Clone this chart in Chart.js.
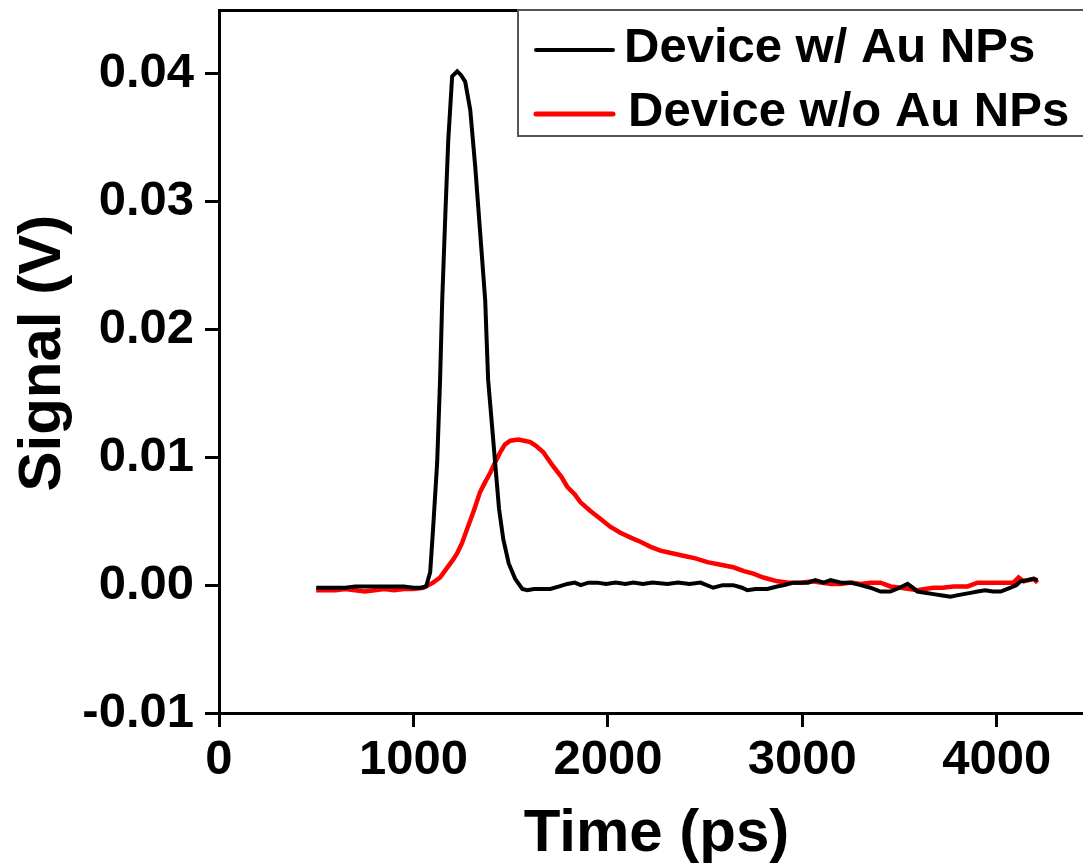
<!DOCTYPE html>
<html>
<head>
<meta charset="utf-8">
<script src="https://cdn.jsdelivr.net/npm/chart.js@4/dist/chart.umd.min.js"></script>
<style>
  body { margin: 0; background: #fff; overflow: hidden; }
  #wrap { width: 1083px; height: 867px; overflow: hidden; }
</style>
</head>
<body>
<div id="wrap"><canvas id="myChart" width="1094" height="867"></canvas></div>
<script>
// time (ps) and signal (V)
var timeAu = [500, 550, 600, 650, 700, 750, 800, 850, 900, 950, 1000, 1040, 1065, 1086, 1101, 1122, 1137, 1148, 1164, 1179, 1199, 1225, 1245, 1266, 1292, 1318, 1343, 1369, 1384, 1420, 1440, 1462, 1490, 1523, 1560, 1585, 1620, 1660, 1704, 1750, 1791, 1830, 1860, 1900, 1945, 1990, 2040, 2090, 2131, 2180, 2230, 2306, 2360, 2420, 2476, 2542, 2590, 2645, 2690, 2717, 2760, 2820, 2870, 2903, 2954, 2990, 3030, 3067, 3110, 3145, 3200, 3248, 3300, 3350, 3402, 3453, 3500, 3541, 3570, 3592, 3630, 3675, 3720, 3762, 3795, 3829, 3865, 3901, 3940, 3980, 4020, 4071, 4100, 4122, 4160, 4189, 4210];
var signalAu = [-0.0002, -0.0002, -0.0002, -0.0002, -0.0001, -0.0001, -0.0001, -0.0001, -0.0001, -0.0001, -0.0002, -0.0002, -0.0001, 0.001, 0.0044, 0.0096, 0.0161, 0.0223, 0.029, 0.0348, 0.0398, 0.0402, 0.0399, 0.0394, 0.0372, 0.0327, 0.0276, 0.0223, 0.0161, 0.0096, 0.006, 0.0036, 0.0017, 0.0005, -0.0003, -0.0004, -0.0003, -0.0003, -0.0003, -0.0001, 0.0001, 0.0002, 0.0, 0.0002, 0.0002, 0.0001, 0.0002, 0.0001, 0.0002, 0.0001, 0.0002, 0.0001, 0.0002, 0.0001, 0.0002, -0.0002, 0.0, 0.0, -0.0002, -0.0004, -0.0003, -0.0003, -0.0001, 0.0, 0.0002, 0.0002, 0.0002, 0.0004, 0.0002, 0.0004, 0.0002, 0.0002, 0.0, -0.0002, -0.0005, -0.0005, -0.0002, 0.0001, -0.0002, -0.0005, -0.0006, -0.0007, -0.0008, -0.0009, -0.0008, -0.0007, -0.0006, -0.0005, -0.0004, -0.0005, -0.0005, -0.0002, 0.0, 0.0003, 0.0004, 0.0005, 0.0004];

var timeNoAu = [500, 550, 600, 650, 700, 750, 800, 850, 900, 950, 1000, 1050, 1101, 1137, 1170, 1204, 1225, 1250, 1276, 1310, 1343, 1370, 1395, 1420, 1446, 1470, 1498, 1539, 1570, 1601, 1630, 1668, 1700, 1719, 1760, 1791, 1830, 1858, 1910, 1961, 2010, 2064, 2120, 2167, 2220, 2270, 2330, 2388, 2450, 2512, 2580, 2645, 2700, 2748, 2800, 2872, 2930, 2990, 3050, 3093, 3150, 3196, 3250, 3299, 3350, 3402, 3453, 3505, 3550, 3592, 3630, 3675, 3720, 3778, 3850, 3901, 3960, 4020, 4060, 4086, 4112, 4138, 4165, 4189, 4210];
var signalNoAu = [-0.0004, -0.0004, -0.0004, -0.0003, -0.0004, -0.0005, -0.0004, -0.0003, -0.0004, -0.0003, -0.0003, -0.0002, 0.0002, 0.0006, 0.0013, 0.002, 0.0025, 0.0033, 0.0044, 0.0058, 0.0073, 0.0081, 0.0088, 0.0096, 0.0104, 0.011, 0.0113, 0.0114, 0.0113, 0.0112, 0.0109, 0.0104, 0.0097, 0.0093, 0.0085, 0.0077, 0.0071, 0.0065, 0.0058, 0.0052, 0.0046, 0.0041, 0.0037, 0.0034, 0.003, 0.0027, 0.0025, 0.0023, 0.0021, 0.0018, 0.0016, 0.0014, 0.0011, 0.0009, 0.0006, 0.0003, 0.0002, 0.0002, 0.0003, 0.0002, 0.0001, 0.0001, 0.0002, 0.0001, 0.0002, 0.0002, -0.0001, -0.0002, -0.0003, -0.0004, -0.0003, -0.0002, -0.0002, -0.0001, -0.0001, 0.0002, 0.0002, 0.0002, 0.0002, 0.0002, 0.0006, 0.0003, 0.0004, 0.0005, 0.0002];

var seriesLabels = ["Device w/ Au NPs", "Device w/o Au NPs"];
var seriesColors = ["#000000", "#ff0000"];

var xMin = 0, xMax = 4500, xStep = 500;
var yMin = -0.01, yMax = 0.045, yStep = 0.005;

var fontFamily = "'Liberation Sans', Arial, sans-serif";

function toPoints(xs, ys) {
    var pts = [];
    for (var i = 0; i < xs.length; i++) pts.push({ x: xs[i], y: ys[i] });
    return pts;
}

function isMajorX(v) { return Math.round(v) % 1000 === 0; }
function isMajorY(v) { return Math.round(v / yStep) % 2 === 0; }

// short minor ticks, placed by the scales
var minorTicks = {
    id: 'minorTicks',
    afterDraw: function (chart) {
        var ctx = chart.ctx, area = chart.chartArea;
        var sx = chart.scales.x, sy = chart.scales.y;
        ctx.save();
        ctx.strokeStyle = '#000';
        ctx.lineWidth = 3;
        ctx.beginPath();
        sx.ticks.forEach(function (t) {
            if (!isMajorX(t.value)) {
                var px = sx.getPixelForValue(t.value);
                ctx.moveTo(px, area.bottom);
                ctx.lineTo(px, area.bottom + 8);
            }
        });
        sy.ticks.forEach(function (t) {
            if (!isMajorY(t.value)) {
                var py = sy.getPixelForValue(t.value);
                ctx.moveTo(area.left, py);
                ctx.lineTo(area.left - 8, py);
            }
        });
        ctx.stroke();
        ctx.restore();
    }
};

// framed legend in the upper right corner
var boxLegend = {
    id: 'boxLegend',
    afterDraw: function (chart) {
        var ctx = chart.ctx, area = chart.chartArea;
        var left = area.left + 299, top = area.top, bottom = area.top + 126;
        ctx.save();
        ctx.fillStyle = '#fff';
        ctx.fillRect(left, top, area.right - left, bottom - top);
        ctx.strokeStyle = '#555';
        ctx.lineWidth = 2;
        ctx.strokeRect(left, top, area.right - left + 10, bottom - top);
        var rows = [{ y: 40, tx: 106, base: 52 }, { y: 104, tx: 110, base: 116 }];
        chart.data.datasets.forEach(function (ds, i) {
            var r = rows[i];
            ctx.strokeStyle = ds.borderColor;
            ctx.lineWidth = i === 0 ? 4 : 5;
            ctx.lineCap = 'round';
            ctx.beginPath();
            ctx.moveTo(left + 18, top + r.y);
            ctx.lineTo(left + 95, top + r.y);
            ctx.stroke();
            ctx.fillStyle = '#000';
            ctx.font = 'bold 49px ' + fontFamily;
            ctx.textBaseline = 'alphabetic';
            ctx.textAlign = 'left';
            ctx.fillText(ds.label, left + r.tx, top + r.base);
        });
        ctx.restore();
    }
};

var ctx = document.getElementById('myChart').getContext('2d');
var chart = new Chart(ctx, {
    type: 'line',
    data: {
        datasets: [{
            label: seriesLabels[0],
            data: toPoints(timeAu, signalAu),
            borderColor: seriesColors[0],
            borderWidth: 4,
            pointRadius: 0,
            tension: 0
        }, {
            label: seriesLabels[1],
            data: toPoints(timeNoAu, signalNoAu),
            borderColor: seriesColors[1],
            borderWidth: 4.5,
            pointRadius: 0,
            tension: 0
        }]
    },
    options: {
        responsive: false,
        animation: false,
        layout: { autoPadding: false, padding: 0 },
        plugins: {
            legend: { display: false },
            tooltip: { enabled: false }
        },
        scales: {
            x: {
                type: 'linear',
                position: 'bottom',
                min: xMin,
                max: xMax,
                ticks: {
                    stepSize: xStep,
                    autoSkip: false,
                    maxRotation: 0,
                    padding: 4,
                    color: '#000',
                    font: { family: fontFamily, size: 49, weight: 'bold' },
                    callback: function (v) { return isMajorX(v) ? String(v) : null; }
                },
                grid: {
                    drawOnChartArea: false,
                    tickLength: 14,
                    tickWidth: 3,
                    tickColor: function (c) { return c.tick && isMajorX(c.tick.value) ? '#000' : 'rgba(0,0,0,0)'; }
                },
                border: { color: '#000', width: 3 },
                title: {
                    display: true,
                    text: 'Time (ps)',
                    color: '#000',
                    font: { family: fontFamily, size: 60, weight: 'bold', lineHeight: 1 },
                    padding: { top: 0, bottom: 3 }
                },
                afterFit: function (s) {
                    s.height = 154;
                    s.paddingLeft = 0;
                    s.paddingRight = 0;
                }
            },
            x2: {
                type: 'linear',
                position: 'top',
                min: xMin,
                max: xMax,
                ticks: { display: false },
                grid: { drawOnChartArea: false, drawTicks: false },
                border: { color: '#000', width: 3 },
                afterFit: function (s) {
                    s.height = 10;
                    s.paddingLeft = 0;
                    s.paddingRight = 0;
                }
            },
            y: {
                type: 'linear',
                position: 'left',
                min: yMin,
                max: yMax,
                ticks: {
                    stepSize: yStep,
                    autoSkip: false,
                    padding: 11,
                    color: '#000',
                    font: { family: fontFamily, size: 49, weight: 'bold' },
                    callback: function (v) { return isMajorY(v) ? v.toFixed(2) : null; }
                },
                grid: {
                    drawOnChartArea: false,
                    tickLength: 14,
                    tickWidth: 3,
                    tickColor: function (c) { return c.tick && isMajorY(c.tick.value) ? '#000' : 'rgba(0,0,0,0)'; }
                },
                border: { color: '#000', width: 3 },
                title: {
                    display: true,
                    text: ' Signal (V)',
                    color: '#000',
                    font: { family: fontFamily, size: 60, weight: 'bold', lineHeight: 1 },
                    padding: { top: 13, bottom: 0 }
                },
                afterFit: function (s) {
                    s.width = 219;
                    s.paddingTop = 0;
                    s.paddingBottom = 0;
                }
            }
        }
    },
    plugins: [minorTicks, boxLegend]
});
</script>
</body>
</html>
